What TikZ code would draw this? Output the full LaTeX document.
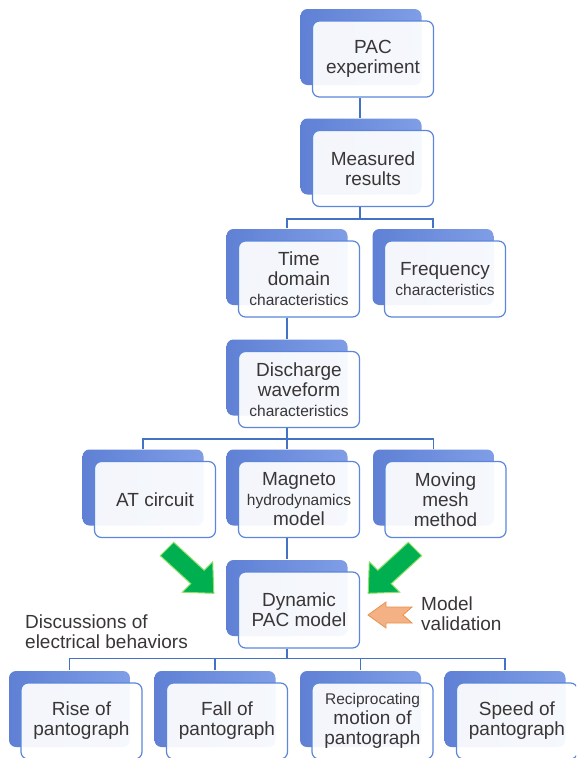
\documentclass[tikz,border=0pt]{standalone}
\usepackage{fontspec}
\setmainfont{Liberation Sans}
\usepackage{tikz}
\usetikzlibrary{shadows}

\definecolor{boxline}{HTML}{5B86DC}
\definecolor{shadowblue}{HTML}{7F9EE6}
\definecolor{shadowdark}{HTML}{5F80D4}
\definecolor{linkblue}{HTML}{4472C4}
\definecolor{textgray}{HTML}{3A3636}
\definecolor{arrowgreen}{HTML}{00B050}
\definecolor{arrowrim}{HTML}{8EE06A}
\definecolor{arroworange}{HTML}{F4B183}
\definecolor{orangerim}{HTML}{E8924E}

\newcommand{\smtext}[1]{{\fontsize{15.5}{17}\selectfont #1}}

\begin{document}
\begin{tikzpicture}[x=1pt, y=-1pt,
    box/.style={draw=boxline, line width=1.2pt, fill=white, fill opacity=0.93,
        text opacity=1, rounded corners=7pt, minimum width=121pt, minimum height=76pt,
        inner sep=2pt, align=center, text=textgray, font=\fontsize{19}{20}\selectfont,
        copy shadow={shadow xshift=-12pt, shadow yshift=12pt, draw=none,
            fill opacity=1, left color=shadowdark, right color=shadowblue}},
    link/.style={draw=linkblue, line width=1.5pt},
    greenarrow/.style={fill=arrowgreen, draw=arrowrim, line width=1pt},
    orangearrow/.style={fill=arroworange, draw=orangerim, line width=0.8pt},
    note/.style={anchor=west, align=left, inner sep=0pt, text=textgray,
        font=\fontsize{19}{20}\selectfont}]
    \useasboundingbox (0, 0) rectangle (576, 758);
    \clip (0, 0) rectangle (576, 758);
    \fill[white] (0, 0) rectangle (576, 758);

    \node[box] at (373, 59) (exp) {PAC\\experiment};
    \node[box] at (373, 168.5) (res) {Measured\\results};
    \node[box] at (299, 279) (time) {Time\\domain\\\smtext{characteristics}};
    \node[box] at (445, 279) (freq) {Frequency\\\smtext{characteristics}};
    \node[box] at (299, 389.5) (dis) {Discharge\\waveform\\\smtext{characteristics}};
    \node[box] at (155, 499.5) (atc) {AT circuit};
    \node[box] at (299, 499.5) (mag) {Magneto\\\smtext{hydrodynamics}\\model};
    \node[box] at (445.5, 499.5) (mov) {Moving\\mesh\\method};
    \node[box] at (299, 610) (dyn) {Dynamic\\PAC model};
    \node[box] at (81.5, 721) (rise) {Rise of\\pantograph};
    \node[box] at (227, 721) (fall) {Fall of\\pantograph};
    \node[box] at (372.5, 721) (rec) {\smtext{Reciprocating}\\motion of\\pantograph};
    \node[box] at (517, 721) (spd) {Speed of\\pantograph};

    \draw[link] ([xshift=-13pt]exp.south) -- ([xshift=-13pt, yshift=12pt]res.north);
    \draw[link] ([xshift=-13pt]res.south) -- ++(0, 12) coordinate (bar1);
    \draw[link] ([xshift=-12pt, yshift=12pt]time.north) |- (bar1) -| ([xshift=-12pt, yshift=12pt]freq.north);
    \draw[link] ([xshift=-12pt]time.south) -- ([xshift=-12pt, yshift=12pt]dis.north);
    \draw[link] ([xshift=-12pt]dis.south) -- ++(0, 11) coordinate (bar2);
    \draw[link] ([xshift=-12pt, yshift=12pt]atc.north) |- (bar2) -| ([xshift=-12pt, yshift=12pt]mov.north);
    \draw[link] (bar2) -- ([xshift=-12pt, yshift=12pt]mag.north);
    \draw[link] ([xshift=-12pt]mag.south) -- ([xshift=-12pt, yshift=12pt]dyn.north);
    \draw[link] ([xshift=-12pt]dyn.south) -- ++(0, 10) coordinate (bar3);
    \draw[link] ([xshift=-12pt, yshift=12pt]rise.north) |- (bar3) -| ([xshift=-12pt, yshift=12pt]spd.north);
    \draw[link] ([xshift=-12pt, yshift=12pt]fall.north) |- (bar3);
    \draw[link] ([xshift=-12pt, yshift=12pt]rec.north) |- (bar3);

    % arrows into the model
    \draw[greenarrow] (173.7, 542.3) -- (204.2, 570.3) -- (212.7, 561.8) -- (213.8, 593.3)
        -- (182.3, 592.2) -- (190.8, 583.7) -- (160.3, 555.7) -- cycle;
    \draw[greenarrow] (408.3, 542.3) -- (377.8, 570.3) -- (369.3, 561.8) -- (368.2, 593.3)
        -- (399.7, 592.2) -- (391.2, 583.7) -- (421.7, 555.7) -- cycle;
    \draw[orangearrow] (368, 615) -- (386, 602) -- (386, 607) -- (412, 607) -- (403, 615)
        -- (412, 623) -- (386, 623) -- (386, 628) -- cycle;

    \node[note] at (25, 632) (disc) {Discussions of\\electrical behaviors};
    \node[note] at (421, 614) (valid) {Model\\validation};
\end{tikzpicture}
\end{document}
